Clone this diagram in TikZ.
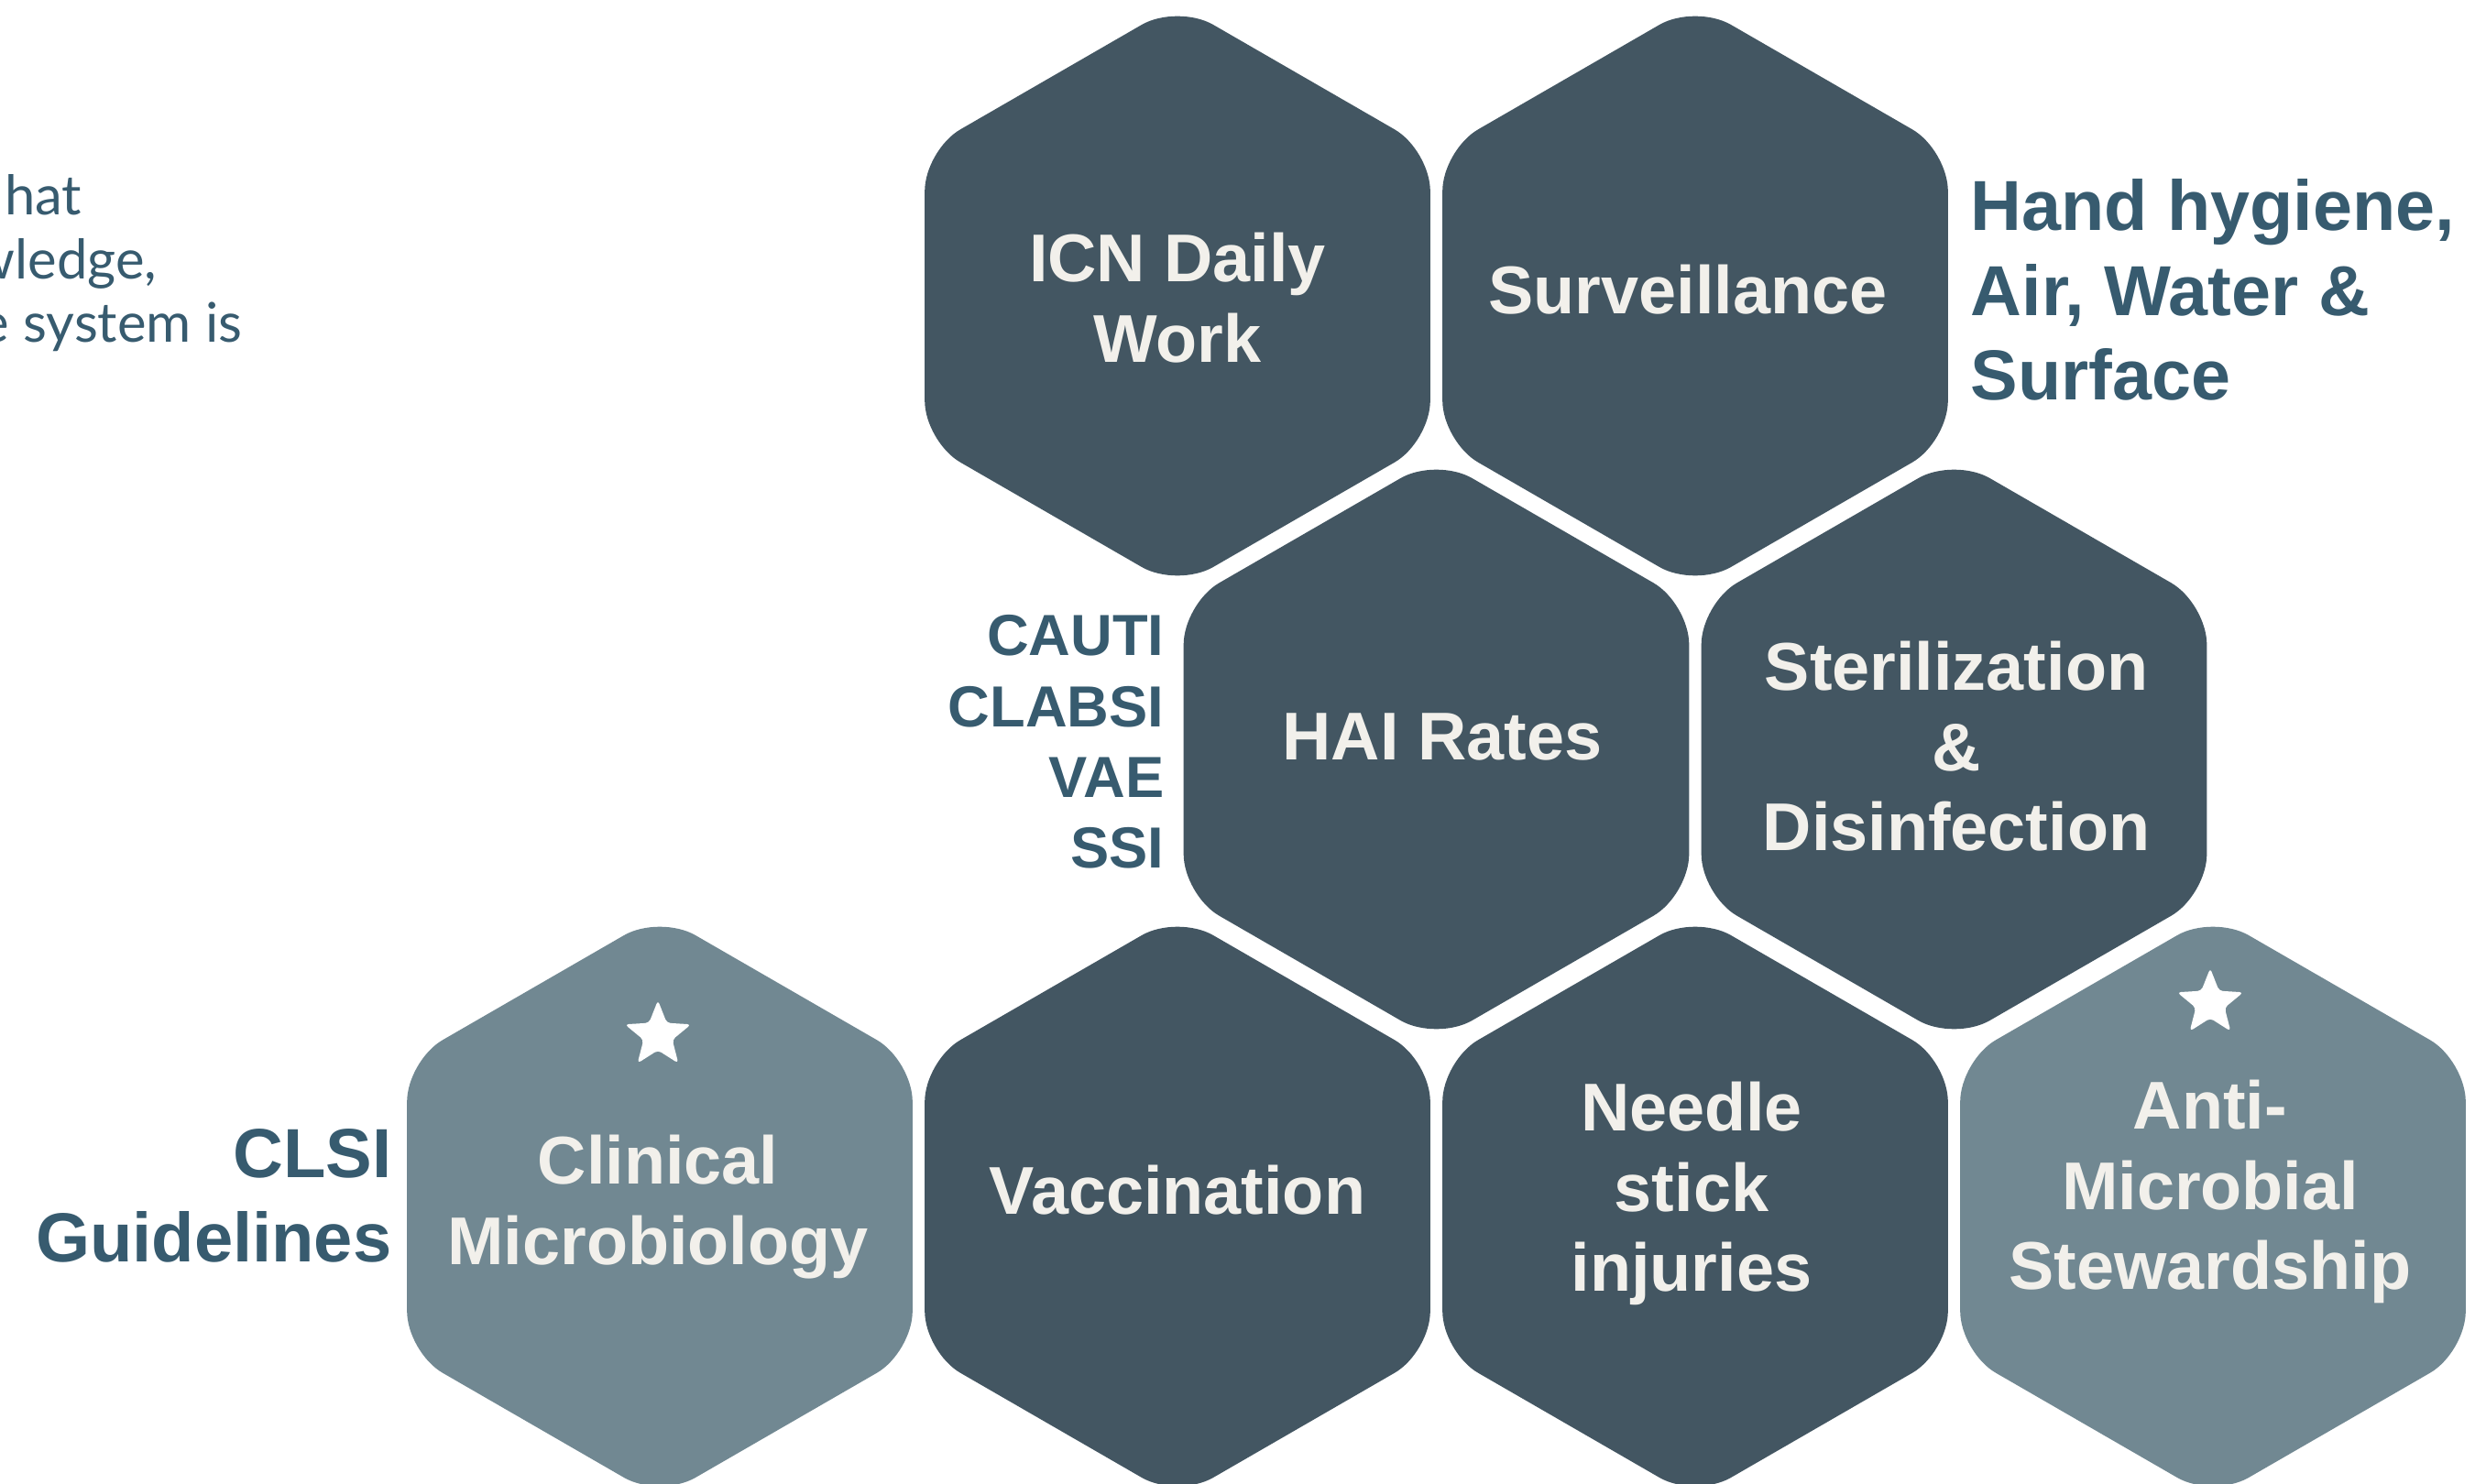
\documentclass[tikz,border=0pt]{standalone}
\usepackage{fontspec}
\setmainfont{Liberation Sans}
\newfontfamily\notefont{Lato}
\usepackage{xcolor}
\usepackage{tikz}
\usetikzlibrary{shapes.geometric}

\definecolor{hexdark}{HTML}{435662}
\definecolor{hexlight}{HTML}{718892}
\definecolor{hextxt}{HTML}{F2F0EB}
\definecolor{labelblue}{HTML}{375B6F}

\begin{document}
\begin{tikzpicture}[
    hexa/.style={regular polygon, regular polygon sides=6, shape border rotate=90,
      minimum size=6.37cm, inner sep=0pt, outer sep=0pt, rounded corners=0.45cm, fill=hexdark},
    hexlite/.style={hexa, fill=hexlight},
    hextext/.style={anchor=north, align=center, inner sep=0pt, text=hextxt,
      font=\bfseries\fontsize{21}{25}\selectfont},
    sidetext/.style={inner sep=0pt, text=labelblue, font=\bfseries\fontsize{22}{26.3}\selectfont},
    notetext/.style={anchor=base east, inner sep=0pt, text=labelblue, font=\notefont\fontsize{17}{21}\selectfont},
    starmark/.style={star, star points=5, star point ratio=2.3, minimum size=0.76cm,
      inner sep=0pt, fill=white, rounded corners=0.04cm}]
    \useasboundingbox (0,0) rectangle (27.13,-16.20);
    \clip (0,0) rectangle (27.13,-16.20);

    % honeycomb
    \node[hexa] (icn) at (12.85, -3.23) {};
    \node[hexa] (surv) at (18.50, -3.23) {};
    \node[hexa] (hai) at (15.675, -8.18) {};
    \node[hexa] (ster) at (21.325, -8.18) {};
    \node[hexlite] (clin) at (7.20, -13.17) {};
    \node[hexa] (vacc) at (12.85, -13.17) {};
    \node[hexa] (needle) at (18.50, -13.17) {};
    \node[hexlite] (amr) at (24.15, -13.17) {};

    % texts in the cells
    \node[hextext] (icn-t) at (12.85, -2.53) {ICN Daily\\Work};
    \node[hextext] (surv-t) at (18.42, -2.88) {Surveillance};
    \node[hextext] (hai-t) at (15.74, -7.78) {HAI Rates};
    \node[hextext] (ster-t) at (21.35, -6.99) {Sterilization\\\&\\Disinfection};
    \node[hextext] (clin-t) at (7.18, -12.38) {Clinical\\Microbiology};
    \node[hextext] (vacc-t) at (12.85, -12.71) {Vaccination};
    \node[hextext] (needle-t) at (18.46, -11.80) {Needle\\stick\\injuries};
    \node[hextext] (amr-t) at (24.12, -11.78) {Anti-\\Microbial\\Stewardship};

    \node[starmark] (clin-s) at (7.18, -11.30) {};
    \node[starmark] (amr-s) at (24.12, -10.95) {};

    % labels beside the cells
    \node[sidetext, anchor=north west, align=left] (hand) at (21.50, -1.95) {Hand hygiene,\\Air, Water \&\\Surface};
    \node[sidetext, anchor=north east, align=right, font=\bfseries\fontsize{18}{22}\selectfont] (rates) at (12.71, -6.71) {CAUTI\\CLABSI\\VAE\\SSI};
    \node[sidetext, anchor=north east, align=right, font=\bfseries\fontsize{21.6}{26}\selectfont] (clsi) at (4.28, -12.32) {CLSI\\Guidelines};

    % cut-off note at the left edge
    \node[notetext] (note1) at (0.90, -2.35) {hat};
    \node[notetext] (note2) at (1.72, -3.05) {wledge,};
    \node[notetext] (note3) at (2.65, -3.74) {e system is};
\end{tikzpicture}
\end{document}
